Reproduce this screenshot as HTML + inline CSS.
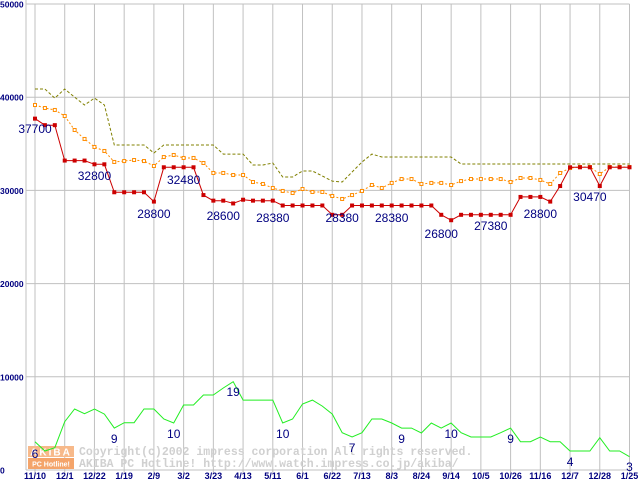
<!DOCTYPE html>
<html><head><meta charset="utf-8"><style>
body{margin:0;background:#fff}
svg{display:block;font-family:"Liberation Sans",sans-serif}
</style></head><body>
<svg id="chart" width="640" height="480" viewBox="0 0 640 480" xmlns="http://www.w3.org/2000/svg">
<g id="grid"></g>
<g id="wm">
<rect x="28" y="446" width="46" height="11" fill="#f7b98a"/>
<rect x="28" y="458" width="46" height="11" fill="#f4a46a"/>
<text x="51" y="455.5" font-size="10" font-weight="bold" fill="#fff" text-anchor="middle" letter-spacing="2">AKIBA</text>
<text x="51" y="466.5" font-size="7" font-weight="bold" fill="#fff" text-anchor="middle">PC Hotline!</text>
<text x="79" y="455" font-family="Liberation Mono,monospace" font-size="11.5" font-weight="bold" fill="#d0d0d0">Copyright(c)2002 impress corporation All rights reserved.</text>
<text x="79" y="467" font-family="Liberation Mono,monospace" font-size="11.5" font-weight="bold" fill="#d0d0d0">AKIBA PC Hotline!  http://www.watch.impress.co.jp/akiba/</text>
</g>
<g id="series"></g>
<g id="labels"></g>
</svg>
<script>
const xLabels=["11/10","12/1","12/22","1/19","2/9","3/2","3/23","4/13","5/11","6/1","6/22","7/13","8/3","8/24","9/14","10/5","10/26","11/16","12/7","12/28","1/25"];
const yTicks=[0,10000,20000,30000,40000,50000];
const minPrice=[37700,37000,37000,33200,33200,33200,32800,32800,29800,29800,29800,29800,28800,32480,32480,32480,32480,29500,28900,28900,28600,29000,28900,28900,28900,28380,28380,28380,28380,28380,27380,27380,28380,28380,28380,28380,28380,28380,28380,28380,28380,27380,26800,27380,27380,27380,27380,27380,27380,29300,29300,29300,28800,30470,32480,32480,32480,30470,32480,32480,32480];
const avgPrice=[39160,38840,38630,37980,36480,35520,34660,34230,33050,33150,33260,33150,32620,33580,33800,33480,33480,32940,31870,31870,31650,31650,30900,30690,30260,29940,29720,30150,29830,29830,29400,29080,29500,29940,30580,30260,30800,31220,31220,30690,30800,30800,30580,31000,31220,31220,31220,31220,30900,31330,31330,31120,30690,31870,32400,32510,32510,31760,32510,32510,32510];
const maxPrice=[40880,40880,39900,40880,40000,39160,39900,39160,34870,34870,34870,34870,34010,34870,34870,34870,34870,34870,34870,33900,33900,33900,32720,32720,32940,31440,31440,32080,32080,31550,31000,30900,31970,33050,33900,33580,33580,33580,33580,33580,33580,33580,33580,32830,32830,32830,32830,32830,32830,32830,32830,32830,32830,32830,32830,32830,32830,32830,32830,32830,32830];
const shopCount=[3040,2040,2390,5180,6540,6040,6540,6000,4500,5070,5070,6540,6540,5470,5040,6970,6970,8050,8050,8800,9470,7500,7500,7500,7500,5040,5470,7080,7500,6860,6000,4000,3540,4000,5470,5470,5040,4500,4500,3970,5040,4500,5040,4000,3540,3540,3540,4000,4500,3040,3040,3540,3040,3040,2040,2040,2040,3470,2040,2040,1430];
const priceLabels=[[0,"37700"],[6,"32800"],[12,"28800"],[15,"32480"],[19,"28600"],[24,"28380"],[31,"28380"],[36,"28380"],[41,"26800"],[46,"27380"],[51,"28800"],[56,"30470"]];
const priceLabelY=[128,175,213,179,215,217,217,217,233,225,213,196];
const countLabels=[[0,"6"],[8,"9"],[14,"10"],[20,"19"],[25,"10"],[32,"7"],[37,"9"],[42,"10"],[48,"9"],[54,"4"],[60,"3"]];
const countLabelY=[457,442,437,395,437,451,442,437,442,465,470];
const NS="http://www.w3.org/2000/svg";
const X0=35,X1=629.5,Y0=470,Y1=4,VMAX=50000;
const N=minPrice.length;
const xs=i=>X0+i*(X1-X0)/(N-1);
const ys=v=>Y0-v*(Y0-Y1)/VMAX;
const xl=k=>X0+k*(X1-X0)/(xLabels.length-1);
function mk(tag,attrs,parent){const e=document.createElementNS(NS,tag);for(const k in attrs)e.setAttribute(k,attrs[k]);parent.appendChild(e);return e;}
const grid=document.getElementById('grid');
yTicks.forEach(t=>{
  const l=mk('line',{x1:26,x2:X1,y1:ys(t),y2:ys(t),stroke:'#c0c0c0','stroke-width':1},grid);
  
  
  const tx=mk('text',{x:0,y:ys(t)+3.5,'font-size':8.5,'font-weight':'bold',fill:'#000080'},grid);
  tx.textContent=String(t);
  
  
});
const ax=mk('line',{x1:26,x2:26,y1:0,y2:Y0,stroke:'#c0c0c0','stroke-width':1},grid);


xLabels.forEach((lab,k)=>{
  const l=mk('line',{x1:xl(k),x2:xl(k),y1:Y1,y2:Y0+4,stroke:'#c0c0c0','stroke-width':1},grid);
  
  
  const tx=mk('text',{x:xl(k),y:479,'font-size':9,'font-weight':'bold',fill:'#000080','text-anchor':'middle'},grid);
  tx.textContent=lab;
  
  
});
const ser=document.getElementById('series');
function pts(arr){return arr.map((v,i)=>xs(i).toFixed(1)+','+ys(v).toFixed(1)).join(' ');}
const gl=mk('polyline',{points:pts(shopCount),fill:'none',stroke:'#22ee22','stroke-width':1},ser);


const ml=mk('polyline',{points:pts(maxPrice),fill:'none',stroke:'#808000','stroke-width':1,'stroke-dasharray':'3,2'},ser);


const al=mk('polyline',{points:pts(avgPrice),fill:'none',stroke:'#ff8c00','stroke-width':1,'stroke-dasharray':'2,2'},ser);


avgPrice.forEach((v,i)=>{
  const r=mk('rect',{x:xs(i)-1.5,y:ys(v)-1.5,width:3,height:3,fill:'#fff',stroke:'#ff8c00','stroke-width':1},ser);
  
  
});
const rl=mk('polyline',{points:pts(minPrice),fill:'none',stroke:'#cc0000','stroke-width':1},ser);


minPrice.forEach((v,i)=>{
  const r=mk('rect',{x:xs(i)-2,y:ys(v)-2,width:4,height:4,fill:'#cc0000'},ser);
  
  
});
const labs=document.getElementById('labels');
priceLabels.forEach(([i,t],k)=>{
  const tx=mk('text',{x:xs(i),y:priceLabelY[k]+5,'font-size':12,fill:'#000080','text-anchor':'middle'},labs);
  tx.textContent=t;
  
  
});
countLabels.forEach(([i,t],k)=>{
  const tx=mk('text',{x:xs(i),y:countLabelY[k]+1,'font-size':12,fill:'#000080','text-anchor':'middle'},labs);
  tx.textContent=t;
  
  
});
</script>
</body></html>
